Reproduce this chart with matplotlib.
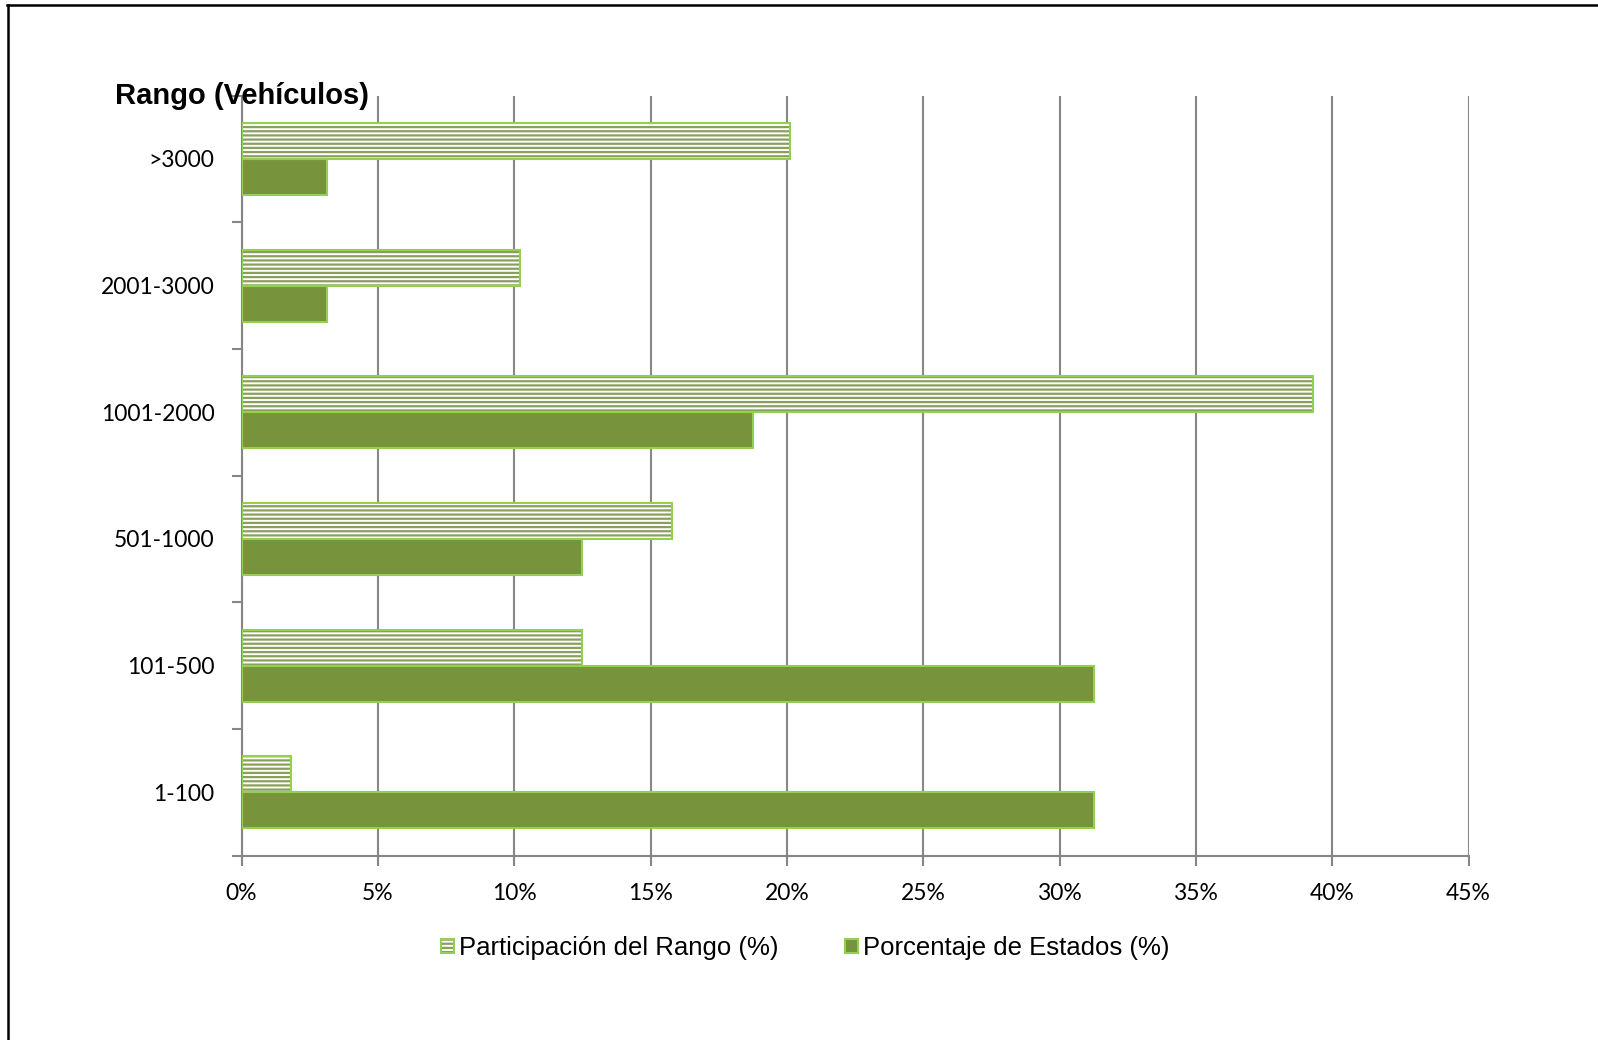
import matplotlib
matplotlib.use("Agg")
import matplotlib.pyplot as plt
from matplotlib.lines import Line2D
from matplotlib.patches import Patch
from matplotlib.ticker import FixedLocator, MultipleLocator, FuncFormatter
import numpy as np

# rangos de flota, de abajo hacia arriba
rangos = ["1-100", "101-500", "501-1000", "1001-2000", "2001-3000", ">3000"]
participacion = [1.8, 12.5, 15.8, 39.3, 10.2, 20.1]   # Participación del Rango (%)
estados = [31.25, 31.25, 12.5, 18.75, 3.125, 3.125]   # Porcentaje de Estados (%)

verde_osc = "#77933C"
verde_cla = "#92D050"
trama = "#8A9F5E"
gris = "#868686"

plt.rcParams["hatch.linewidth"] = 1.6

fig = plt.figure(figsize=(15.98, 10.40), dpi=100)
ax = fig.add_axes([241.5 / 1598, 1 - 855.7 / 1040, (1468.5 - 241.5) / 1598, (855.7 - 95.5) / 1040])

y = np.arange(len(rangos))
h = 0.284

# barras rayadas: relleno con trama y borde aparte
ax.barh(y + h / 2, participacion, height=h, color="white", edgecolor=trama,
        hatch="----", linewidth=0, zorder=3)
ax.barh(y + h / 2, participacion, height=h, fill=False, edgecolor=verde_cla,
        linewidth=1.5, zorder=4)
ax.barh(y - h / 2, estados, height=h, color=verde_osc, edgecolor=verde_cla,
        linewidth=1.5, zorder=3)

ax.set_xlim(0, 45)
ax.set_ylim(-0.5, len(rangos) - 0.5)
ax.xaxis.set_major_locator(MultipleLocator(5))
ax.xaxis.set_major_formatter(FuncFormatter(lambda v, p: "%d%%" % round(v)))
ax.grid(axis="x", color=gris, linewidth=1.5, zorder=0)
ax.set_axisbelow(True)

ax.set_yticks(y)
ax.set_yticklabels(rangos)
ax.yaxis.set_minor_locator(FixedLocator(np.arange(-0.5, len(rangos), 1.0)))
ax.tick_params(axis="y", which="major", length=0, pad=19.5)
ax.tick_params(axis="y", which="minor", length=7.5, width=1.5, color=gris)
ax.tick_params(axis="x", length=7.5, width=1.5, color=gris, pad=12)
for lab in ax.get_xticklabels() + ax.get_yticklabels():
    lab.set_fontfamily("Lato")
    lab.set_fontsize(16.5)
    lab.set_color("black")

for s in ["top", "right"]:
    ax.spines[s].set_visible(False)
for s in ["left", "bottom"]:
    ax.spines[s].set_color(gris)
    ax.spines[s].set_linewidth(1.5)

fig.text(115 / 1598, 1 - 96 / 1040, "Rango (Vehículos)", fontsize=21,
         fontweight="bold", family="Liberation Sans", va="center", ha="left")

# leyenda
h1 = (Patch(facecolor="white", edgecolor=trama, hatch="----", linewidth=0),
      Patch(fill=False, edgecolor=verde_cla, linewidth=1.5))
h2 = Patch(facecolor=verde_osc, edgecolor=verde_cla, linewidth=1.5)
fig.legend([h1, h2], ["Participación del Rango (%)", "Porcentaje de Estados (%)"],
           loc="center", bbox_to_anchor=(0.504, 1 - 948 / 1040), ncol=2,
           frameon=False, prop={"family": "Liberation Sans", "size": 18.5},
           handlelength=0.5, handleheight=0.5, handletextpad=0.2,
           columnspacing=2.6)

# marco
fig.add_artist(Line2D([7 / 1598, 1], [1 - 5 / 1040, 1 - 5 / 1040], color="black", linewidth=1.8))
fig.add_artist(Line2D([8 / 1598, 8 / 1598], [0, 1 - 5 / 1040], color="black", linewidth=1.8))

fig.savefig("out.png", dpi=100)
